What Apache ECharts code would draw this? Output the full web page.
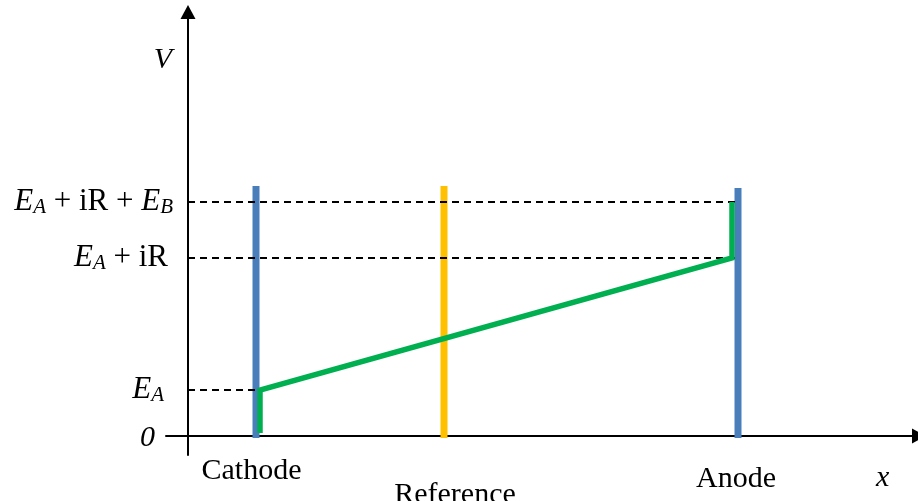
<!DOCTYPE html>
<html>
<head>
<meta charset="utf-8">
<title>Potential profile in an electrochemical cell</title>
<script src="https://cdn.jsdelivr.net/npm/echarts@6/dist/echarts.min.js"></script>
<style>
  html, body { margin: 0; padding: 0; background: #ffffff; }
  #chart { width: 918px; height: 501px; }
</style>
</head>
<body>
<div id="chart"></div>
<script>
// Electrode positions along x (arbitrary length units) and their drawn extent in V
const electrodeNames = ['Cathode', 'Reference', 'Anode'];
const electrodeX = [6.8, 25.6, 55.0];
const electrodeTop = [25.0, 25.0, 24.8];
const electrodeBottom = [-0.2, -0.2, -0.2];

// Potential levels marked on the V axis: 0, E_A, E_A + iR, E_A + iR + E_B
const levelValues = [0, 4.6, 17.8, 23.4];
const levelLabels = [
  '{z|0}',
  '{i|E}{sp|A}',
  '{i|E}{s|A}{tp| + iR}',
  '{i|E}{s|A}{t| + iR + }{i|E}{s|B}'
];
// Each dashed guide runs from the V axis to this electrode
const guideLevels = [4.6, 17.8, 23.4];
const guideEnds = [6.8, 55.0, 55.0];

// Potential profile across the cell (electrode surfaces)
const profileX = [7.2, 7.2, 54.4, 54.4];
const profileV = [0.3, 4.6, 17.8, 23.4];

const electrodeColors = ['#4A7EBB', '#FFC000', '#4A7EBB'];
const FONT = '"Liberation Serif", "Times New Roman", serif';

const series = [];

electrodeNames.forEach(function (name, k) {
  series.push({
    name: name,
    type: 'line',
    data: [[electrodeX[k], electrodeBottom[k]], [electrodeX[k], electrodeTop[k]]],
    symbol: 'none',
    silent: true,
    z: 2,
    lineStyle: { color: electrodeColors[k], width: 7, cap: 'butt' }
  });
});

guideLevels.forEach(function (v, k) {
  series.push({
    type: 'line',
    data: [[0, v], [guideEnds[k], v]],
    symbol: 'none',
    silent: true,
    z: 3,
    lineStyle: { color: '#000000', width: 2, type: [7, 5] }
  });
});

series.push({
  name: 'Potential',
  type: 'line',
  data: profileX.map(function (x, k) { return [x, profileV[k]]; }),
  symbol: 'none',
  silent: true,
  z: 4,
  lineStyle: { color: '#00B050', width: 5.5, join: 'miter', cap: 'butt' }
});

function nearestIndex(list, v) {
  let best = 0;
  list.forEach(function (x, k) { if (Math.abs(x - v) < Math.abs(list[best] - v)) best = k; });
  return best;
}

const xLabelStyles = ['c', 'r', 'a'];

const chart = echarts.init(document.getElementById('chart'), null, { renderer: 'canvas' });
chart.setOption({
  animation: false,
  backgroundColor: '#ffffff',
  grid: { left: 166, top: 12, width: 753, height: 443, containLabel: false, outerBoundsMode: 'none' },
  xAxis: {
    type: 'value',
    min: -2.2,
    max: 73.1,
    name: 'x',
    nameLocation: 'end',
    nameGap: -43,
    nameTextStyle: {
      fontFamily: FONT, fontStyle: 'italic', fontSize: 30, color: '#000',
      align: 'left', verticalAlign: 'top', padding: [27, 0, 0, 0]
    },
    axisLine: {
      onZero: true,
      symbol: ['none', 'triangle'],
      symbolSize: [15, 14],
      lineStyle: { color: '#000', width: 2 }
    },
    axisTick: { show: false },
    splitLine: { show: false },
    axisLabel: {
      customValues: electrodeX,
      margin: 1.5,
      formatter: function (v) {
        const k = nearestIndex(electrodeX, v);
        return '{' + xLabelStyles[k] + '|' + electrodeNames[k] + '}';
      },
      rich: {
        c: { fontFamily: FONT, fontSize: 30, lineHeight: 30, color: '#000', padding: [0, 9, 0, 0] },
        r: { fontFamily: FONT, fontSize: 30, lineHeight: 30, color: '#000', padding: [47, 0, 0, 22] },
        a: { fontFamily: FONT, fontSize: 30, lineHeight: 30, color: '#000', padding: [15, 4, 0, 0] }
      }
    }
  },
  yAxis: {
    type: 'value',
    min: -1.9,
    max: 42.4,
    name: 'V',
    nameLocation: 'end',
    nameGap: -48,
    nameTextStyle: {
      fontFamily: FONT, fontStyle: 'italic', fontSize: 30, color: '#000',
      align: 'right', verticalAlign: 'middle', padding: [0, 16, 0, 0]
    },
    axisLine: {
      onZero: true,
      symbol: ['none', 'triangle'],
      symbolSize: [15, 14],
      lineStyle: { color: '#000', width: 2 }
    },
    axisTick: { show: false },
    splitLine: { show: false },
    axisLabel: {
      customValues: levelValues,
      margin: -7,
      formatter: function (v) {
        return levelLabels[nearestIndex(levelValues, v)];
      },
      rich: {
        i: { fontFamily: FONT, fontStyle: 'italic', fontSize: 31, lineHeight: 31, color: '#000' },
        s: { fontFamily: FONT, fontStyle: 'italic', fontSize: 21, lineHeight: 21, color: '#000', verticalAlign: 'bottom' },
        sp: { fontFamily: FONT, fontStyle: 'italic', fontSize: 21, lineHeight: 21, color: '#000', verticalAlign: 'bottom', padding: [0, 9, 0, 0] },
        t: { fontFamily: FONT, fontSize: 31, lineHeight: 31, color: '#000' },
        tp: { fontFamily: FONT, fontSize: 31, lineHeight: 31, color: '#000', padding: [0, 5, 0, 0] },
        z: { fontFamily: FONT, fontStyle: 'italic', fontSize: 30, lineHeight: 30, color: '#000', padding: [4, 18, 0, 0] }
      }
    }
  },
  series: series
});
</script>
</body>
</html>
